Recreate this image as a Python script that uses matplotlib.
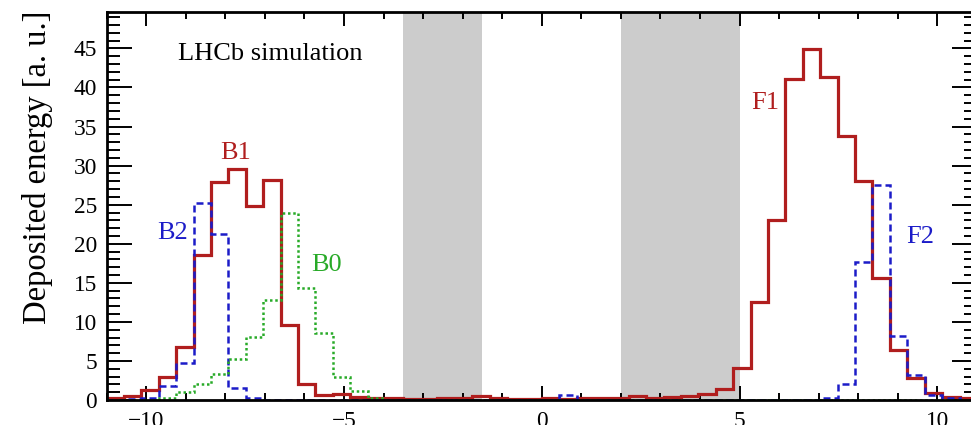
import numpy as np
import matplotlib
matplotlib.use('Agg')
import matplotlib.pyplot as plt
from matplotlib.ticker import MultipleLocator

plt.rcParams['font.family'] = ['Liberation Serif', 'DejaVu Serif']

# 50 bins between -11 and 11
bin_edges = np.linspace(-11, 11, 51)

# Deposited energy per bin
# B1 (left) and F1 (right) drawn as one red histogram
red_b1_f1 = [0.2, 0.5, 1.3, 2.9, 6.8, 18.6, 27.9, 29.6, 24.8, 28.2,
             9.6, 2.1, 0.7, 0.8, 0.4, 0.2, 0.2, 0.1, 0.1, 0.2,
             0.3, 0.5, 0.2, 0.1, 0.1, 0.2, 0.1, 0.3, 0.3, 0.2,
             0.5, 0.3, 0.4, 0.5, 0.8, 1.4, 4.1, 12.6, 23.1, 41.1,
             44.9, 41.3, 33.8, 28.0, 15.6, 6.4, 2.8, 0.9, 0.4, 0.2]
# B2 (left) and F2 (right), blue dashed
blue_b2_f2 = [0.0, 0.1, 0.3, 1.8, 4.8, 25.2, 21.3, 1.6, 0.3, 0.0,
              0.0, 0.0, 0.0, 0.0, 0.0, 0.0, 0.0, 0.0, 0.0, 0.0,
              0.0, 0.0, 0.0, 0.0, 0.0, 0.0, 0.6, 0.0, 0.0, 0.0,
              0.0, 0.0, 0.0, 0.0, 0.0, 0.0, 0.0, 0.0, 0.0, 0.0,
              0.0, 0.3, 2.1, 17.7, 27.5, 8.2, 3.2, 0.6, 0.2, 0.0]
# B0, green dotted
green_b0 = [0.0, 0.0, 0.0, 0.3, 1.0, 2.1, 3.3, 5.3, 8.1, 12.8,
            23.9, 14.4, 8.6, 3.0, 1.1, 0.2, 0.0, 0.0, 0.0, 0.0,
            0.0, 0.0, 0.0, 0.0, 0.0, 0.0, 0.0, 0.0, 0.0, 0.0,
            0.0, 0.0, 0.0, 0.0, 0.0, 0.0, 0.0, 0.0, 0.0, 0.0,
            0.0, 0.0, 0.0, 0.0, 0.0, 0.0, 0.0, 0.0, 0.0, 0.0]

# shaded regions (no stations)
gray_bands = [(-3.5, -1.5), (2.0, 5.0)]

red = '#b01e1e'
blue = '#1c1cc8'
green = '#28aa28'

fig = plt.figure(figsize=(9.71, 4.25), dpi=100)
ax = fig.add_axes([0.1098, 0.0588, 0.8963, 0.9118])

for lo, hi in gray_bands:
    ax.axvspan(lo, hi, color='#cccccc', lw=0, zorder=0)

ax.stairs(red_b1_f1, bin_edges, color=red, lw=2.3, zorder=2)
ax.stairs(blue_b2_f2, bin_edges, color=blue, lw=1.8, ls=(0, (2.8, 1.6)), zorder=3)
ax.stairs(green_b0, bin_edges, color=green, lw=1.8, ls=(0, (1, 1.1)), zorder=3)

ax.set_xlim(-11, 11)
ax.set_ylim(0, 49.6)

# labels of the stations
ax.text(-7.75, 31.6, 'B1', color=red, fontsize=19, ha='center', va='center')
ax.text(-9.32, 21.4, 'B2', color=blue, fontsize=19, ha='center', va='center')
ax.text(-5.43, 17.3, 'B0', color=green, fontsize=19, ha='center', va='center')
ax.text(5.64, 38.0, 'F1', color=red, fontsize=19, ha='center', va='center')
ax.text(9.56, 20.9, 'F2', color=blue, fontsize=19, ha='center', va='center')
ax.text(-9.19, 44.3, 'LHCb simulation', color='black', fontsize=19, ha='left', va='center')

fig.text(38 / 971, 1 - 11 / 425, 'Deposited energy [a. u.]', rotation=90,
         ha='center', va='top', fontsize=23.5)

# ROOT style ticks on all four sides
ax.xaxis.set_major_locator(MultipleLocator(5))
ax.xaxis.set_minor_locator(MultipleLocator(1))
ax.yaxis.set_major_locator(MultipleLocator(5))
ax.yaxis.set_minor_locator(MultipleLocator(1))
ax.tick_params(axis='both', which='both', direction='in', top=True, right=True,
               width=1.4, labelsize=16.8)
ax.tick_params(axis='x', which='major', length=10, pad=8)
ax.tick_params(axis='x', which='minor', length=5)
ax.tick_params(axis='y', which='major', length=18, pad=7)
ax.tick_params(axis='y', which='minor', length=9.4)
for sp in ax.spines.values():
    sp.set_linewidth(2)
    sp.set_zorder(5)

fig.savefig('out.png', dpi=100)
